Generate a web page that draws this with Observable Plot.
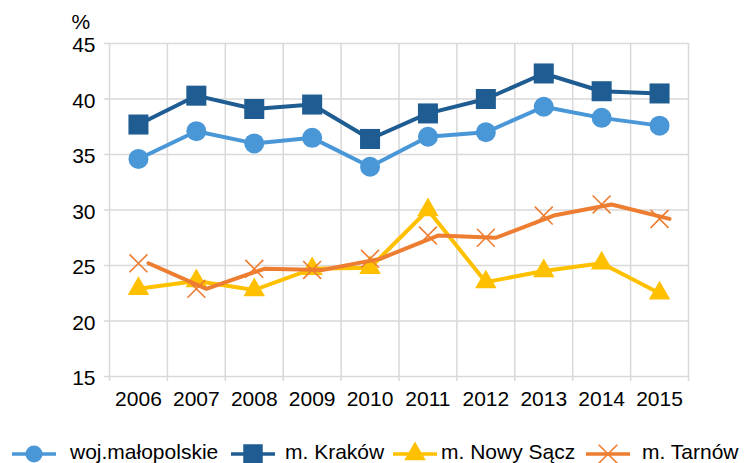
<!DOCTYPE html>
<html>
<head>
<meta charset="utf-8">
<script src="https://cdn.jsdelivr.net/npm/d3@7"></script>
<script src="https://cdn.jsdelivr.net/npm/@observablehq/plot@0.6"></script>
<style>
  body { margin: 0; background: #fff; font-family: "Liberation Sans", Arial, sans-serif; }
  #legend { position: relative; width: 744px; height: 43px; font-size: 21px; color: #000; }
  #legend .sym { position: absolute; }
  #legend .lab { position: absolute; white-space: nowrap; line-height: 1; }
</style>
</head>
<body>
<div id="chart"></div>
<div id="legend"></div>
<script>
// ---- data ----
const years = [2006, 2007, 2008, 2009, 2010, 2011, 2012, 2013, 2014, 2015];
const wojMalopolskie = [34.6, 37.1, 36.0, 36.5, 33.9, 36.6, 37.0, 39.3, 38.3, 37.6];
const mKrakow        = [37.7, 40.3, 39.1, 39.5, 36.4, 38.7, 40.0, 42.3, 40.7, 40.5];
const mNowySacz      = [22.9, 23.6, 22.8, 24.7, 24.8, 30.0, 23.5, 24.5, 25.2, 22.5];
const mTarnow        = [25.2, 22.9, 24.7, 24.6, 25.6, 27.7, 27.5, 29.5, 30.5, 29.2];
const seriesNames = ["woj.małopolskie", "m. Kraków", "m. Nowy Sącz", "m. Tarnów"];
const yTicks = [15, 20, 25, 30, 35, 40, 45];
const yUnit = "%";

// ---- styles ----
const series = [
  {name: seriesNames[0], values: wojMalopolskie, color: "#4a97d7", symbol: "circle",   r: 10,  filled: true,  dx: 0,  legR: 8.5},
  {name: seriesNames[1], values: mKrakow,        color: "#1f5c91", symbol: "square",   r: 11.3, filled: true, dx: 0,  legR: 11},
  {name: seriesNames[2], values: mNowySacz,      color: "#ffc000", symbol: "triangle", r: 8,   filled: true,  dx: 0,  legR: 8},
  {name: seriesNames[3], values: mTarnow,        color: "#ed7d31", symbol: "times",    r: 8.2, filled: false, dx: 10, legR: 8.5}
];
const gridColor = "#d9d9d9";
const font = "Liberation Sans, Arial, sans-serif";
const halfYears = d3.range(years[0] - 0.5, years[years.length - 1] + 1, 1);

const marks = [
  Plot.gridX(halfYears, {stroke: gridColor, strokeOpacity: 1, strokeWidth: 1.5}),
  Plot.gridY(yTicks, {stroke: gridColor, strokeOpacity: 1, strokeWidth: 1.5}),
  Plot.axisX(halfYears, {tickSize: 5, tickFormat: () => "", stroke: gridColor, strokeWidth: 1.5, label: null}),
  Plot.axisX(years, {tickSize: 0, tickPadding: 15, tickFormat: d => String(d), label: null}),
  Plot.axisY(yTicks, {tickSize: 5, tickFormat: () => "", stroke: gridColor, strokeWidth: 1.5, label: null}),
  Plot.axisY(yTicks, {tickSize: 0, tickPadding: 14, label: null, dy: 2}),
  Plot.text([yUnit], {frameAnchor: "top-left", text: d => d, dx: -38, dy: -21, textAnchor: "start", lineAnchor: "middle", fill: "#000"})
];

for (const s of series) {
  const data = years.map((y, i) => ({year: y, value: s.values[i]}));
  marks.push(Plot.line(data, {x: "year", y: "value", stroke: s.color, strokeWidth: 4, dx: s.dx}));
  marks.push(Plot.dot(data, s.filled
    ? {x: "year", y: "value", symbol: s.symbol, r: s.r, fill: s.color, stroke: "none"}
    : {x: "year", y: "value", symbol: s.symbol, r: s.r, fill: "none", stroke: s.color, strokeWidth: 1.6}));
}

const chart = Plot.plot({
  width: 744,
  height: 420,
  marginLeft: 109,
  marginRight: 56,
  marginTop: 43,
  marginBottom: 44,
  x: {domain: [years[0] - 0.5, years[years.length - 1] + 0.5]},
  y: {domain: [yTicks[0], yTicks[yTicks.length - 1]]},
  style: {fontFamily: font, fontSize: "21px", color: "#000", background: "#fff", overflow: "visible"},
  marks
});
document.getElementById("chart").appendChild(chart);

// ---- legend ----
const symLefts = [12, 231, 393, 586];
const labLefts = [70, 285, 441, 642];
const legend = d3.select("#legend");
const symMap = {circle: d3.symbolCircle, square: d3.symbolSquare, triangle: d3.symbolTriangle, times: d3.symbolTimes};
series.forEach((s, i) => {
  const svg = legend.append("svg").attr("class", "sym")
    .attr("width", 44).attr("height", 26)
    .style("left", symLefts[i] + "px").style("top", (34 - 13) + "px");
  svg.append("line").attr("x1", 0).attr("x2", 44).attr("y1", 13).attr("y2", 13)
    .attr("stroke", s.color).attr("stroke-width", 3.5);
  const path = d3.symbol(symMap[s.symbol], Math.PI * s.legR * s.legR)();
  const p = svg.append("path").attr("d", path).attr("transform", "translate(22,13)");
  if (s.filled) p.attr("fill", s.color);
  else p.attr("fill", "none").attr("stroke", s.color).attr("stroke-width", 1.6);
  legend.append("div").attr("class", "lab")
    .style("left", labLefts[i] + "px").style("top", (34 - 13) + "px")
    .text(s.name);
});
</script>
</body>
</html>
